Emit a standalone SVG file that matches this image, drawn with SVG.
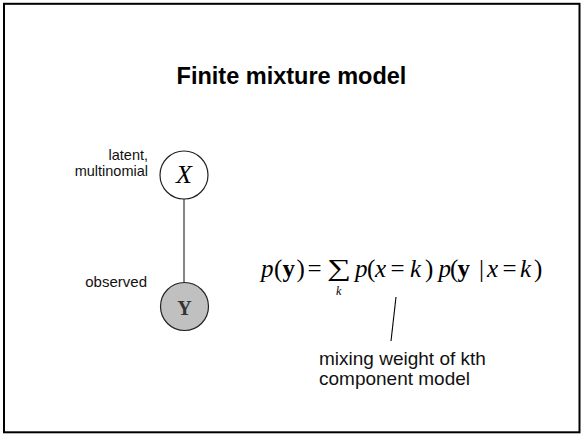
<svg xmlns="http://www.w3.org/2000/svg" width="582" height="434" viewBox="0 0 582 434">
<style>
.lbl{font-family:"Liberation Sans",Arial,sans-serif;font-size:15px;fill:#111}
.math{font-family:"Liberation Serif","Times New Roman",serif;font-size:25px;fill:#000}
.it{font-style:italic}
.bd{font-weight:bold}
.node{stroke:#222;stroke-width:1.2}
.edge{stroke:#444;stroke-width:1.3;fill:none}
</style>
<rect x="4" y="3.8" width="575.5" height="428.5" fill="#fff" stroke="#000" stroke-width="2"/>
<text x="291.5" y="84" text-anchor="middle" font-family="Liberation Sans,Arial,sans-serif" font-weight="bold" font-size="23.5" fill="#000">Finite mixture model</text>
<g id="connectors">
<line class="edge" x1="184" y1="198.5" x2="184" y2="282.5"/>
<line x1="396" y1="297" x2="391" y2="341" stroke="#000" stroke-width="1.1"/>
</g>
<g id="nodeX">
<circle class="node" cx="184" cy="175" r="24" fill="#fff"/>
<text class="math it" x="184" y="183" text-anchor="middle" style="font-size:26px">X</text>
<text class="lbl" x="148" y="160" text-anchor="end" style="font-size:14.5px">latent,</text>
<text class="lbl" x="148" y="176" text-anchor="end" style="font-size:14.5px">multinomial</text>
</g>
<g id="nodeY">
<circle class="node" cx="184.5" cy="306.5" r="24" fill="#c0c0c0"/>
<text class="math bd" x="184.5" y="315" text-anchor="middle" style="font-size:20px;fill:#333">Y</text>
<text class="lbl" x="147" y="287" text-anchor="end">observed</text>
</g>
<g id="formula">
<text class="math" y="277"><tspan class="it" x="261">p</tspan><tspan x="274">(</tspan><tspan class="bd" x="282.5">y</tspan><tspan x="296.5">)</tspan><tspan x="307.5">=</tspan></text>
<text class="math" transform="translate(327,276) scale(1.4,1)" x="0" y="0" style="font-size:24px">∑</text>
<text class="math it" x="336" y="295" style="font-size:12px">k</text>
<text class="math" y="277"><tspan class="it" x="355">p</tspan><tspan x="367">(</tspan><tspan class="it" x="375">x</tspan><tspan x="390.5">=</tspan><tspan class="it" x="410">k</tspan><tspan x="425">)</tspan><tspan class="it" x="438.5">p</tspan><tspan x="450">(</tspan><tspan class="bd" x="457.5">y</tspan><tspan x="479">|</tspan><tspan class="it" x="487">x</tspan><tspan x="502.5">=</tspan><tspan class="it" x="520">k</tspan><tspan x="534">)</tspan></text>
</g>
<g id="note">
<text class="lbl" x="319" y="365" style="font-size:19px">mixing weight of kth</text>
<text class="lbl" x="319" y="385" style="font-size:19px">component model</text>
</g>
</svg>
